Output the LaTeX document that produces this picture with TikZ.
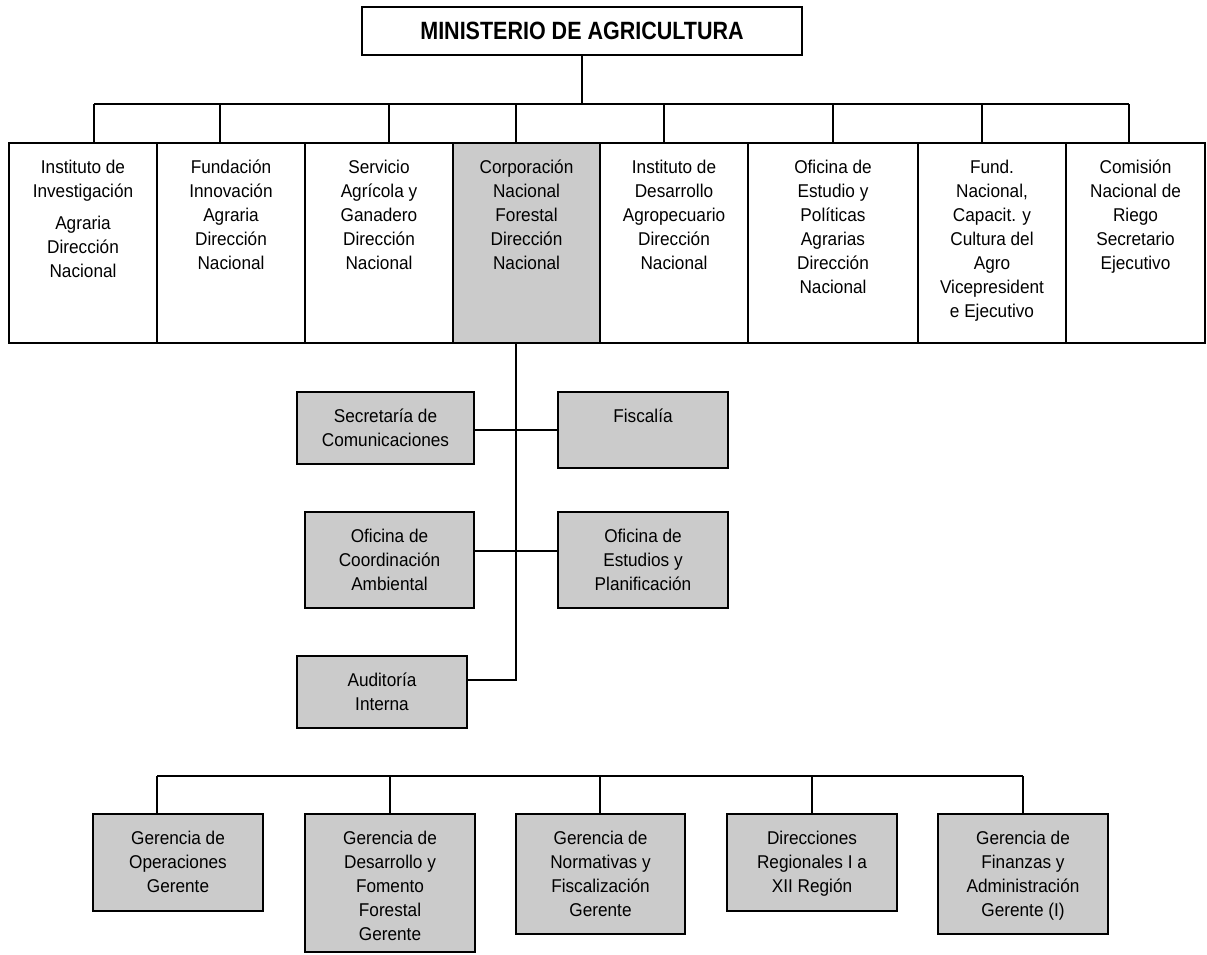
\documentclass[tikz,border=0pt]{standalone}
\usepackage{fontspec}
\setmainfont[FakeStretch=0.93]{Liberation Sans}
\newfontfamily\titlefont[FakeStretch=0.86]{Liberation Sans}
\definecolor{boxgray}{RGB}{203,203,203}
\newcommand{\boxtext}[3]{\begin{minipage}[t][#2][t]{#1}\centering\rule{0pt}{30pt}#3\end{minipage}}

\begin{document}
\begin{tikzpicture}[x=1pt, y=-1pt, unit/.style = {draw, line width=1.8pt, inner sep=0pt, outer sep=0pt, anchor=north west, font=\fontsize{18.5}{24}\selectfont}, shaded/.style = {unit, fill=boxgray}, link/.style = {line width=1.6pt}]
\useasboundingbox (0,0) rectangle (1207,954);
\node[draw, line width=1.8pt, minimum width=440pt, minimum height=48pt, inner sep=0pt, font=\titlefont\bfseries\fontsize{25}{28}\selectfont] (min) at (582,31) {MINISTERIO DE AGRICULTURA};

\node[unit] (b1) at (9,143) {\boxtext{148pt}{200pt}{Instituto de\\Investigación\\[8pt]Agraria\\Dirección\\Nacional}};
\node[unit] (b2) at (157,143) {\boxtext{148pt}{200pt}{Fundación\\Innovación\\Agraria\\Dirección\\Nacional}};
\node[unit] (b3) at (305,143) {\boxtext{148pt}{200pt}{Servicio\\Agrícola y\\Ganadero\\Dirección\\Nacional}};
\node[shaded] (b4) at (453,143) {\boxtext{147pt}{200pt}{Corporación\\Nacional\\Forestal\\Dirección\\Nacional}};
\node[unit] (b5) at (600,143) {\boxtext{148pt}{200pt}{Instituto de\\Desarrollo\\Agropecuario\\Dirección\\Nacional}};
\node[unit] (b6) at (748,143) {\boxtext{170pt}{200pt}{Oficina de\\Estudio y\\Políticas\\Agrarias\\Dirección\\Nacional}};
\node[unit] (b7) at (918,143) {\boxtext{148pt}{200pt}{Fund.\\Nacional,\\Capacit. y\\Cultura del\\Agro\\Vicepresident\\e Ejecutivo}};
\node[unit] (b8) at (1066,143) {\boxtext{139pt}{200pt}{Comisión\\Nacional de\\Riego\\Secretario\\Ejecutivo}};

\node[shaded] (sec) at (297,392) {\boxtext{177pt}{72pt}{Secretaría de\\Comunicaciones}};
\node[shaded] (fis) at (558,392) {\boxtext{170pt}{76pt}{Fiscalía}};
\node[shaded] (coo) at (305,512) {\boxtext{169pt}{96pt}{Oficina de\\Coordinación\\Ambiental}};
\node[shaded] (est) at (558,512) {\boxtext{170pt}{96pt}{Oficina de\\Estudios y\\Planificación}};
\node[shaded] (aud) at (297,656) {\boxtext{170pt}{72pt}{Auditoría\\Interna}};

\node[shaded] (g1) at (93,814) {\boxtext{170pt}{97pt}{Gerencia de\\Operaciones\\Gerente}};
\node[shaded] (g2) at (305,814) {\boxtext{170pt}{138pt}{Gerencia de\\Desarrollo y\\Fomento\\Forestal\\Gerente}};
\node[shaded] (g3) at (516,814) {\boxtext{169pt}{120pt}{Gerencia de\\Normativas y\\Fiscalización\\Gerente}};
\node[shaded] (g4) at (727,814) {\boxtext{170pt}{97pt}{Direcciones\\Regionales I a\\XII Región}};
\node[shaded] (g5) at (938,814) {\boxtext{170pt}{120pt}{Gerencia de\\Finanzas y\\Administración\\Gerente (I)}};

\coordinate (bus) at (0,104);
\coordinate (lbus) at (0,776);
\draw[link] (min.south) -- (min.south |- bus);
\draw[link] ([xshift=11pt]b1.north |- bus) -- ([xshift=-6.5pt]b8.north |- bus);
\foreach \n/\d in {b1/11, b2/-11, b3/10, b4/-10.5, b5/-10, b6/0, b7/-10, b8/-6.5}
  \draw[link] ([xshift=\d pt]\n.north) -- ([xshift=\d pt]\n.north |- bus);

\draw[link] ([xshift=-10.5pt]b4.south) |- ([yshift=12pt]aud.east);
\draw[link] (sec.east |- fis.west) -- (fis.west);
\draw[link] ([yshift=9pt]coo.east) -- ([yshift=9pt]est.west);

\draw[link] ([xshift=-21pt]g1.north |- lbus) -- (g5.north |- lbus);
\foreach \n/\d in {g1/-21, g2/0, g3/-0.5, g4/0, g5/0}
  \draw[link] ([xshift=\d pt]\n.north) -- ([xshift=\d pt]\n.north |- lbus);
\end{tikzpicture}
\end{document}
